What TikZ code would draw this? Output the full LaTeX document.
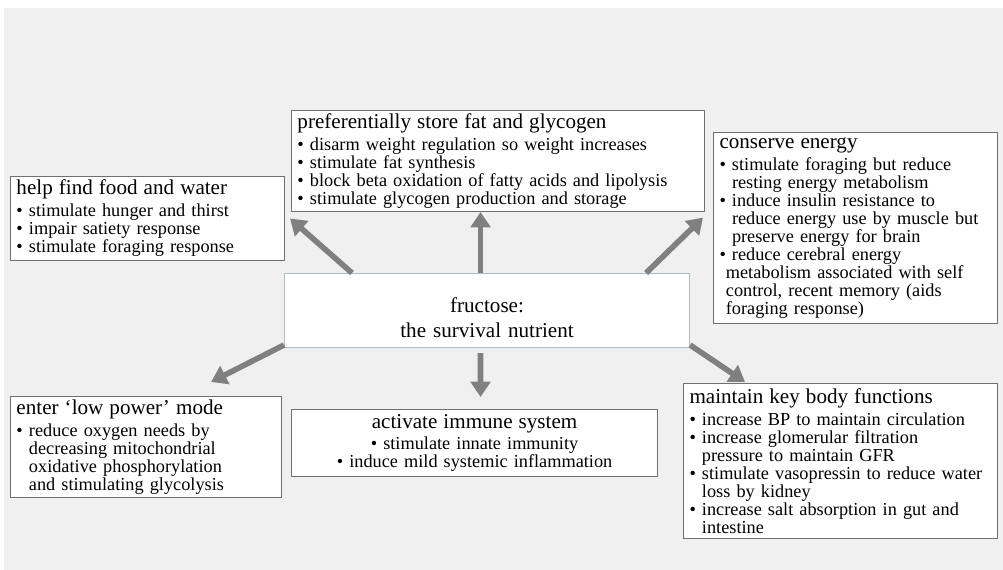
\documentclass[tikz,border=0pt]{standalone}
\usepackage{fontspec}
\setmainfont{Liberation Serif}
\usetikzlibrary{arrows.meta}

\definecolor{bggray}{HTML}{F0F0F0}
\definecolor{boxgray}{HTML}{707070}
\definecolor{arrgray}{HTML}{808080}
\definecolor{ctrline}{HTML}{A9BDCB}

\newcommand{\boxhead}[1]{{\fontsize{15}{17}\selectfont #1\par}\vspace{2.8pt}}
\newcommand{\bul}{\textbullet\ }
\newcommand{\cnt}{\leavevmode\hphantom{\textbullet\ }}
\newcommand{\cntb}{\hspace*{0.35em}}

\begin{document}
\begin{tikzpicture}
      [ x=0.025cm, y=-0.025cm,
        infobox/.style={draw=boxgray, fill=white, line width=0.7pt,
          anchor=north west, align=left, inner xsep=0.15cm, inner ysep=0pt,
          font=\fontsize{13}{12.8}\selectfont},
        fatarrow/.style={draw=arrgray, fill=arrgray, line width=4pt,
          -{Triangle[length=11pt,width=14pt]}}
      ]
      \useasboundingbox (0,0) rectangle (1003,570);
      \fill[bggray] (4,8) rectangle (1003,570);

      \node[infobox, text width=6.55cm, minimum height=2.1cm]    (food) at (10,176)
        {\boxhead{help find food and water}
         \bul stimulate hunger and thirst\\
         \bul impair satiety response\\
         \bul stimulate foraging response};
      \node[infobox, text width=10.025cm, minimum height=2.525cm] (store) at (291,110)
        {\boxhead{preferentially store fat and glycogen}
         \bul disarm weight regulation so weight increases\\
         \bul stimulate fat synthesis\\
         \bul block beta oxidation of fatty acids and lipolysis\\
         \bul stimulate glycogen production and storage};
      \node[infobox, text width=6.8cm, minimum height=4.775cm]   (cons) at (713,132)
        {\boxhead{conserve energy}
         \bul stimulate foraging but reduce\\
         \cnt resting energy metabolism\\
         \bul induce insulin resistance to\\
         \cnt reduce energy use by muscle but\\
         \cnt preserve energy for brain\\
         \bul reduce cerebral energy\\
         \cntb metabolism associated with self\\
         \cntb control, recent memory (aids\\
         \cntb foraging response)};
      \node[infobox, draw=ctrline, align=center, text width=9.825cm, minimum height=1.85cm,
            font=\fontsize{15}{17.8}\selectfont]                  (ctr) at (284,273)
        {\rule{0pt}{21pt}fructose:\\the survival nutrient};
      \node[infobox, text width=6.475cm, minimum height=2.525cm] (low) at (10,396)
        {\boxhead{enter ‘low power’ mode}
         \bul reduce oxygen needs by\\
         \cnt decreasing mitochondrial\\
         \cnt oxidative phosphorylation\\
         \cnt and stimulating glycolysis};
      \node[infobox, align=center, text width=8.85cm, minimum height=1.675cm] (imm) at (291,409)
        {\boxhead{activate immune system}
         \bul stimulate innate immunity\\
         \bul induce mild systemic inflammation};
      \node[infobox, text width=7.55cm, minimum height=3.875cm]  (maint) at (683,383)
        {\boxhead{maintain key body functions}
         \bul increase BP to maintain circulation\\
         \bul increase glomerular filtration\\
         \cnt pressure to maintain GFR\\
         \bul stimulate vasopressin to reduce water\\
         \cnt loss by kidney\\
         \bul increase salt absorption in gut and\\
         \cnt intestine};

      \path ([xshift=1.7cm]ctr.north west)               edge[fatarrow] ([xshift=0.125cm]food.east)
            ([xshift=-0.1625cm]ctr.north)                edge[fatarrow] ([xshift=-0.1625cm]ctr.north |- store.south)
            ([xshift=-1.1cm]ctr.north east)              edge[fatarrow] ([xshift=-0.25cm,yshift=0.26cm]cons.west)
            ([yshift=0.075cm]ctr.south west)             edge[fatarrow] ([xshift=-1.775cm,yshift=0.35cm]low.north east)
            ([xshift=-0.1625cm,yshift=-0.125cm]ctr.south) edge[fatarrow] ([xshift=0.15cm,yshift=0.3cm]imm.north)
            ([yshift=0.075cm]ctr.south east)             edge[fatarrow] ([xshift=1.55cm,yshift=0.025cm]maint.north west);
    \end{tikzpicture}
\end{document}
